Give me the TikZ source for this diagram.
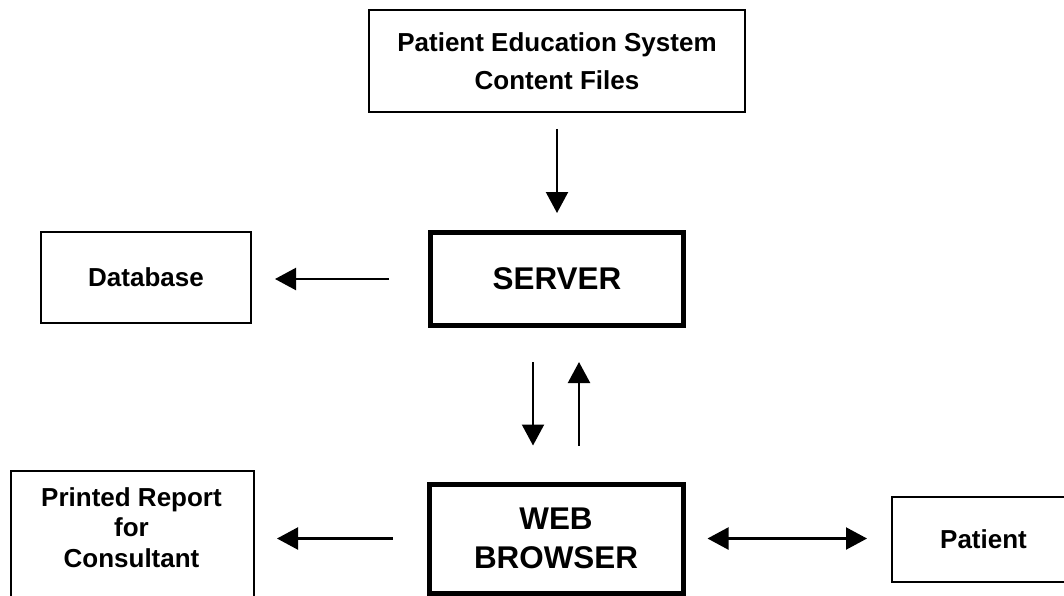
\documentclass[tikz,border=0pt]{standalone}
\usepackage{fontspec}
\setmainfont{Liberation Sans}
\usetikzlibrary{arrows.meta,calc}
\begin{document}
\begin{tikzpicture}[x=1pt,y=-1pt,
 thinbox/.style={draw, line width=2pt, rectangle, inner sep=0pt},
 thickbox/.style={draw, line width=5pt, rectangle, inner sep=0pt},
 smalltext/.style={font=\fontsize{26}{38}\selectfont\bfseries, align=center},
 bigtext/.style={font=\fontsize{31.4}{39}\selectfont\bfseries, align=center},
 arr/.style={line width=2.2pt, -{Triangle[length=21pt,width=22pt]}},
 darr/.style={line width=2.2pt, {Triangle[length=21pt,width=22pt]}-{Triangle[length=21pt,width=22pt]}}]
\useasboundingbox (0,0) rectangle (1064,595);
\clip (0,0) rectangle (1064,595);
% nodes
\node[thinbox, smalltext, minimum width=376pt, minimum height=101.5pt] (pes) at (557,61) {Patient Education System\\Content Files};
\node[thickbox, bigtext, minimum width=253pt, minimum height=93pt] (srv) at (557,279) {SERVER};
\node[thinbox, smalltext, minimum width=210pt, minimum height=91pt] (db) at (146,277.5) {Database};
\node[thickbox, bigtext, minimum width=254pt, minimum height=109pt] (wb) at (556,538.5) {WEB\\BROWSER};
\node[thinbox, minimum width=243pt, minimum height=140pt, anchor=north west] (pr) at (10,470) {};
\node[smalltext, font=\fontsize{26}{30.5}\selectfont\bfseries] (prt) at (131.5,527.5) {Printed Report\\for\\Consultant};
\node[thinbox, smalltext, minimum width=183pt, minimum height=85pt] (pat) at (983.5,539.5) {Patient};
% connectors
\draw[arr] ([yshift=-16pt]pes.south) -- ([yshift=17pt]srv.north);
\draw[arr] ([xshift=-39pt]srv.west) -- ([xshift=23pt]db.east |- srv.west);
\draw[arr] ([xshift=-24pt,yshift=-34pt]srv.south) -- ([xshift=-23pt,yshift=36pt]wb.north);
\draw[arr] ([xshift=23pt,yshift=36pt]wb.north) -- ([xshift=22pt,yshift=-34pt]srv.south);
\draw[arr] ([xshift=-34pt]wb.west) -- ([xshift=22pt]pr.east |- wb.west);
\draw[darr] ([xshift=22pt]wb.east) -- ([xshift=-24pt]pat.west |- wb.east);
\end{tikzpicture}
\end{document}
